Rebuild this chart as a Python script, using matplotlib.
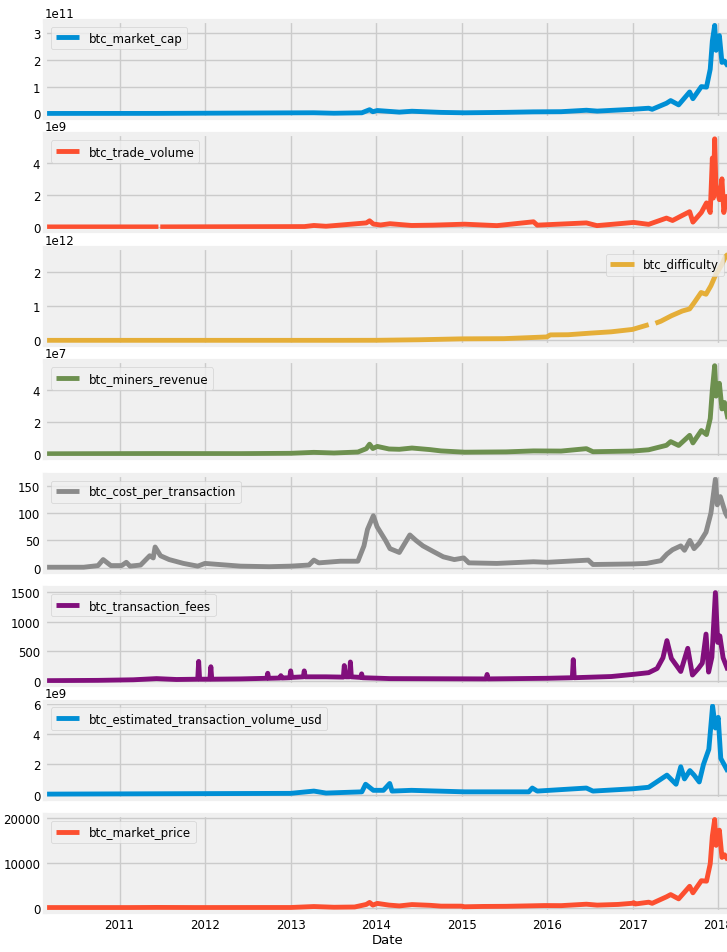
import pandas as pd
import matplotlib.pyplot as plt
import matplotlib.dates as mdates

nan = float('nan')

market_cap_dates = ['2010-02-17', '2011-06-08', '2013-04-10', '2013-07-05', '2013-11-01', '2013-12-04',
                    '2013-12-18', '2014-01-06', '2014-04-10', '2014-06-03', '2014-10-05', '2015-01-14',
                    '2015-07-10', '2015-11-04', '2016-03-01', '2016-06-17', '2016-08-02', '2016-12-31',
                    '2017-03-10', '2017-03-25', '2017-05-25', '2017-06-12', '2017-07-16', '2017-09-01',
                    '2017-09-15', '2017-10-21', '2017-11-12', '2017-11-28', '2017-12-07', '2017-12-17',
                    '2017-12-23', '2018-01-06', '2018-01-17', '2018-01-28', '2018-02-20']
market_cap_values = [0.0, 0.2e9, 2.6e9, 0.8e9, 2.5e9, 14e9,
                     6.5e9, 11e9, 5e9, 8.3e9, 4e9, 2.5e9,
                     4.2e9, 6e9, 6.6e9, 12e9, 8.8e9, 15.5e9,
                     19.5e9, 15.5e9, 38e9, 48e9, 32e9, 80e9,
                     55e9, 100e9, 98e9, 165e9, 270e9, 328e9,
                     235e9, 290e9, 190e9, 195e9, 165e9]

trade_volume_dates = ['2010-02-17', '2011-06-16', '2011-06-20', '2011-06-24', '2013-03-01', '2013-04-10',
                      '2013-06-01', '2013-11-20', '2013-12-04', '2013-12-20', '2014-01-20', '2014-03-01',
                      '2014-06-01', '2014-09-01', '2015-01-14', '2015-06-01', '2015-11-04', '2015-11-20',
                      '2016-06-17', '2016-08-01', '2017-01-05', '2017-03-10', '2017-05-25', '2017-06-20',
                      '2017-08-01', '2017-09-01', '2017-09-15', '2017-10-21', '2017-11-12', '2017-11-28',
                      '2017-12-07', '2017-12-11', '2017-12-17', '2017-12-22', '2018-01-06', '2018-01-17',
                      '2018-01-25', '2018-02-06', '2018-02-20']
trade_volume_values = [0.0, 1e6, nan, 1e6, 20e6, 90e6,
                       40e6, 250e6, 380e6, 180e6, 120e6, 200e6,
                       90e6, 110e6, 170e6, 80e6, 320e6, 110e6,
                       250e6, 80e6, 280e6, 160e6, 550e6, 400e6,
                       720e6, 950e6, 300e6, 900e6, 1500e6, 900e6,
                       4300e6, 1800e6, 5500e6, 2600e6, 1700e6, 3000e6,
                       900e6, 1900e6, 500e6]

difficulty_dates = ['2010-02-17', '2012-01-01', '2013-01-01', '2013-07-01', '2014-01-01', '2014-07-01',
                    '2015-01-01', '2015-07-01', '2015-12-31', '2016-01-15', '2016-04-01', '2016-07-01',
                    '2016-10-01', '2016-12-31', '2017-03-10', '2017-03-25', '2017-04-08', '2017-05-01',
                    '2017-06-15', '2017-08-01', '2017-09-01', '2017-09-20', '2017-10-20', '2017-11-10',
                    '2017-12-01', '2017-12-20', '2018-01-15', '2018-02-01', '2018-02-20']
difficulty_values = [0.0, 1.2e6, 3.4e6, 26e6, 1.4e9, 17e9,
                     44e9, 50e9, 100e9, 160e9, 165e9, 210e9,
                     250e9, 320e9, 460e9, nan, 500e9, 560e9,
                     720e9, 860e9, 920e9, 1.1e12, 1.4e12, 1.35e12,
                     1.6e12, 1.9e12, 2.2e12, 2.45e12, 2.58e12]

miners_revenue_dates = ['2010-02-17', '2011-06-08', '2012-06-01', '2013-01-01', '2013-04-10', '2013-07-05',
                        '2013-10-15', '2013-11-20', '2013-12-04', '2013-12-18', '2014-01-06', '2014-02-25',
                        '2014-04-10', '2014-06-03', '2014-08-20', '2014-10-05', '2015-01-14', '2015-07-10',
                        '2015-11-04', '2016-03-01', '2016-06-17', '2016-07-15', '2016-12-31', '2017-03-10',
                        '2017-05-25', '2017-06-12', '2017-07-16', '2017-09-01', '2017-09-15', '2017-10-21',
                        '2017-11-12', '2017-11-28', '2017-12-07', '2017-12-17', '2017-12-23', '2018-01-06',
                        '2018-01-17', '2018-01-28', '2018-02-20']
miners_revenue_values = [0.0, 0.15e6, 0.1e6, 0.3e6, 0.9e6, 0.5e6,
                         1.1e6, 3.2e6, 6.0e6, 3.3e6, 4.6e6, 3.0e6,
                         2.8e6, 3.6e6, 2.6e6, 1.8e6, 1.0e6, 1.2e6,
                         1.8e6, 1.7e6, 3.2e6, 1.3e6, 1.7e6, 2.5e6,
                         5.3e6, 7.6e6, 5.2e6, 11.5e6, 6.8e6, 14.5e6,
                         12e6, 22e6, 40e6, 55e6, 36e6, 44e6,
                         28e6, 32e6, 16e6]

cost_per_tx_dates = ['2010-02-17', '2010-08-01', '2010-10-01', '2010-10-23', '2010-11-25', '2011-01-10',
                     '2011-01-30', '2011-02-15', '2011-04-01', '2011-05-10', '2011-05-25', '2011-06-02',
                     '2011-06-25', '2011-08-01', '2011-10-01', '2011-12-01', '2012-01-01', '2012-03-01',
                     '2012-06-01', '2012-10-01', '2013-01-01', '2013-03-20', '2013-04-10', '2013-05-01',
                     '2013-08-01', '2013-10-15', '2013-11-10', '2013-11-25', '2013-12-20', '2014-01-05',
                     '2014-02-10', '2014-03-01', '2014-04-10', '2014-05-25', '2014-06-20', '2014-07-20',
                     '2014-09-01', '2014-10-15', '2014-12-01', '2015-01-10', '2015-02-01', '2015-06-01',
                     '2015-11-04', '2016-01-01', '2016-06-25', '2016-07-15', '2016-12-31', '2017-03-01',
                     '2017-05-01', '2017-05-27', '2017-06-20', '2017-07-25', '2017-08-10', '2017-09-02',
                     '2017-09-20', '2017-10-12', '2017-11-10', '2017-12-01', '2017-12-20', '2017-12-28',
                     '2018-01-10', '2018-02-01', '2018-02-20']
cost_per_tx_values = [1, 1, 4, 15, 4, 4,
                      10, 3, 5, 22, 18, 38,
                      22, 15, 8, 3, 8, 6,
                      3, 2, 3, 5, 14, 9,
                      12, 12, 40, 70, 95, 75,
                      50, 35, 28, 60, 50, 40,
                      30, 20, 15, 18, 9, 8,
                      11, 10, 14, 6, 7, 8,
                      13, 25, 33, 40, 32, 50,
                      35, 45, 65, 100, 162, 115,
                      130, 100, 85]

fees_dates = ['2010-02-17', '2010-10-01', '2011-03-01', '2011-06-08', '2011-09-01', '2011-12-01',
              '2011-12-05', '2011-12-09', '2012-01-22', '2012-01-26', '2012-01-30', '2012-06-01',
              '2012-09-21', '2012-09-25', '2012-09-29', '2012-11-16', '2012-11-20', '2012-11-24',
              '2012-12-28', '2013-01-01', '2013-01-05', '2013-02-24', '2013-02-28', '2013-03-04',
              '2013-06-01', '2013-08-14', '2013-08-18', '2013-08-24', '2013-09-09', '2013-09-13',
              '2013-09-17', '2013-10-27', '2013-10-31', '2013-11-04', '2014-03-01', '2015-04-16',
              '2015-04-20', '2015-04-24', '2015-12-31', '2016-04-18', '2016-04-22', '2016-04-26',
              '2016-10-01', '2016-12-31', '2017-03-10', '2017-04-15', '2017-05-10', '2017-05-27',
              '2017-06-15', '2017-07-05', '2017-07-25', '2017-08-24', '2017-09-13', '2017-10-08',
              '2017-10-25', '2017-11-10', '2017-11-21', '2017-12-05', '2017-12-20', '2017-12-30',
              '2018-01-08', '2018-01-22', '2018-02-20']
fees_values = [5, 10, 20, 40, 25, 30,
               330, 30, 30, 240, 30, 35,
               45, 130, 45, 50, 90, 50,
               55, 170, 60, 70, 170, 70,
               70, 65, 260, 70, 70, 320,
               70, 60, 120, 55, 40, 35,
               110, 35, 45, 55, 360, 55,
               75, 110, 140, 210, 390, 680,
               380, 270, 160, 550, 100, 210,
               300, 790, 150, 400, 1490, 650,
               760, 390, 100]

tx_volume_usd_dates = ['2010-02-17', '2013-01-01', '2013-04-10', '2013-06-01', '2013-11-01', '2013-11-17',
                       '2013-12-20', '2014-02-01', '2014-02-28', '2014-03-10', '2014-06-01', '2015-01-14',
                       '2015-10-15', '2015-10-30', '2015-11-20', '2016-06-17', '2016-07-15', '2016-12-31',
                       '2017-03-10', '2017-05-27', '2017-07-05', '2017-07-25', '2017-08-10', '2017-09-02',
                       '2017-09-20', '2017-10-12', '2017-10-30', '2017-11-22', '2017-12-08', '2017-12-20',
                       '2018-01-01', '2018-01-12', '2018-02-20']
tx_volume_usd_values = [0.05e9, 0.1e9, 0.25e9, 0.12e9, 0.2e9, 0.7e9,
                        0.3e9, 0.3e9, 0.75e9, 0.25e9, 0.3e9, 0.2e9,
                        0.2e9, 0.45e9, 0.25e9, 0.45e9, 0.25e9, 0.4e9,
                        0.5e9, 1.3e9, 0.7e9, 1.85e9, 1.05e9, 1.6e9,
                        1.3e9, 0.85e9, 2.0e9, 3.0e9, 5.85e9, 4.4e9,
                        5.1e9, 2.4e9, 1.3e9]

market_price_dates = ['2010-02-17', '2011-02-10', '2011-06-08', '2011-11-20', '2012-08-15', '2013-01-01',
                      '2013-04-10', '2013-07-05', '2013-10-01', '2013-11-20', '2013-12-04', '2013-12-18',
                      '2014-01-06', '2014-02-25', '2014-04-10', '2014-06-03', '2014-08-20', '2014-10-05',
                      '2014-12-31', '2015-01-14', '2015-04-01', '2015-07-10', '2015-11-04', '2015-12-20',
                      '2016-03-01', '2016-06-17', '2016-08-02', '2016-10-30', '2016-12-31', '2017-01-05',
                      '2017-01-12', '2017-03-10', '2017-03-25', '2017-05-25', '2017-06-12', '2017-07-16',
                      '2017-09-01', '2017-09-15', '2017-10-21', '2017-11-12', '2017-11-28', '2017-12-07',
                      '2017-12-17', '2017-12-23', '2018-01-06', '2018-01-17', '2018-01-28', '2018-02-20']
market_price_values = [0.1, 1.0, 29, 2.5, 12, 13,
                       230, 70, 125, 700, 1150, 550,
                       930, 550, 370, 670, 500, 320,
                       315, 180, 250, 280, 400, 450,
                       430, 750, 550, 700, 960, 1100,
                       800, 1200, 950, 2400, 2900, 1950,
                       4750, 3300, 6000, 5900, 9800, 16000,
                       19700, 13900, 17300, 11200, 11800, 10000]

columns = ['btc_market_cap', 'btc_trade_volume', 'btc_difficulty', 'btc_miners_revenue',
           'btc_cost_per_transaction', 'btc_transaction_fees',
           'btc_estimated_transaction_volume_usd', 'btc_market_price']

series = [
    (market_cap_dates, market_cap_values),
    (trade_volume_dates, trade_volume_values),
    (difficulty_dates, difficulty_values),
    (miners_revenue_dates, miners_revenue_values),
    (cost_per_tx_dates, cost_per_tx_values),
    (fees_dates, fees_values),
    (tx_volume_usd_dates, tx_volume_usd_values),
    (market_price_dates, market_price_values),
]

plt.style.use('fivethirtyeight')
plt.rcParams['font.family'] = ['Liberation Sans Narrow', 'DejaVu Sans']

fig, axes = plt.subplots(8, 1, sharex=True, figsize=(7.27, 9.53), dpi=100)
fig.patch.set_facecolor('white')
fig.subplots_adjust(left=0.062, right=1.004, top=0.977, bottom=0.042, hspace=0.17)

colors = plt.rcParams['axes.prop_cycle'].by_key()['color']

for i, (ax, name, (dates, values)) in enumerate(zip(axes, columns, series)):
    ax.plot(pd.to_datetime(dates), values, color=colors[i % len(colors)], lw=3.5, label=name)
    loc = 'upper right' if name == 'btc_difficulty' else 'upper left'
    ax.legend(loc=loc, fontsize=8.5)
    ax.tick_params(axis='both', labelsize=8.5)
    ax.yaxis.get_offset_text().set_fontsize(8.5)

axes[-1].set_xlim(pd.Timestamp('2010-02-17'), pd.Timestamp('2018-02-20'))
axes[-1].xaxis.set_major_locator(mdates.YearLocator())
axes[-1].xaxis.set_major_formatter(mdates.DateFormatter('%Y'))
axes[-1].tick_params(axis='x', pad=4)
axes[-1].set_xlabel('Date', fontsize=9.5, labelpad=2)

fig.savefig('out.png', dpi=100, facecolor='white')
